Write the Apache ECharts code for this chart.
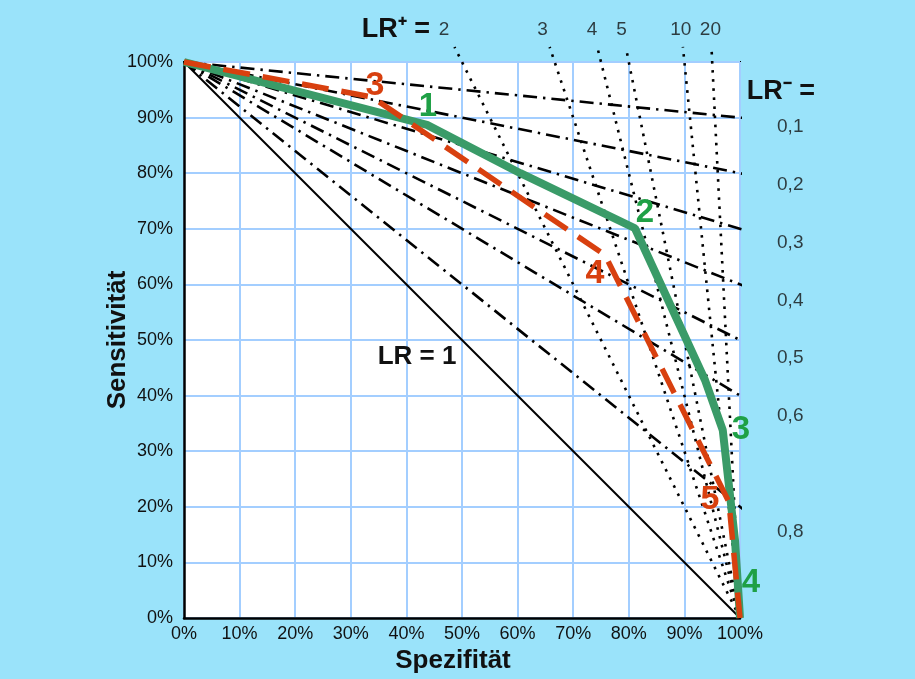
<!DOCTYPE html>
<html>
<head>
<meta charset="utf-8">
<script src="https://cdn.jsdelivr.net/npm/echarts@6/dist/echarts.min.js"></script>
<style>
html,body{margin:0;padding:0;background:#9AE3FA;}
#c{width:915px;height:679px;}
</style>
</head>
<body>
<div id="c"></div>
<script>
// ---- data ----
const xTicks = [0,10,20,30,40,50,60,70,80,90,100];
const lrPlus = [2, 3, 4, 5, 10, 20];
const lrMinus = [0.1, 0.2, 0.3, 0.4, 0.5, 0.6, 0.8];
const lrMinusLabels = ['0,1','0,2','0,3','0,4','0,5','0,6','0,8'];
const greenSpec = [0, 43.7, 60.5, 81.1, 93.7, 96.9, 99.1, 100];
const greenSens = [100, 88.7, 80.0, 70.1, 42.8, 33.8, 14.0, 0];
const redSpec = [0, 33.8, 75.7, 98.0, 100];
const redSens = [100, 93.7, 65.3, 20.9, 0];
const greenLabels = ['1','2','3','4'];
const redLabels = ['3','4','5'];

// ---- chart ----
const FONT = '"Liberation Sans", Arial, sans-serif';
const chart = echarts.init(document.getElementById('c'), null, {renderer:'canvas'});
const series = [];

// LR+ isolines (dotted), from (100%,0) up past the top edge
lrPlus.forEach(function(lr){
  const top = 102.7;
  series.push({type:'line', data:[[100,0],[100 - top/lr, top]], symbol:'none', clip:false, silent:true,
    lineStyle:{color:'#000', width:2.6, type:[2.6,6.5]}, z:3});
});
// LR- isolines (dash-dot), from (0,100%) past the right edge
lrMinus.forEach(function(lr){
  const right = 105.6;
  series.push({type:'line', data:[[0,100],[right, 100 - lr*right]], symbol:'none', clip:false, silent:true,
    lineStyle:{color:'#000', width:2.6, type:[14,6,2.4,6]}, z:3});
});
// LR = 1 diagonal
series.push({type:'line', data:[[0,100],[100,0]], symbol:'none', silent:true,
  lineStyle:{color:'#000', width:2, type:'solid'}, z:3});
// green curve
series.push({type:'line', data:greenSpec.map(function(s,i){return [s, greenSens[i]];}), symbol:'none', clip:false,
  lineStyle:{color:'#3A9B68', width:8}, z:5});
// red dashed curve
series.push({type:'line', data:redSpec.map(function(s,i){return [s, redSens[i]];}), symbol:'none', clip:false,
  lineStyle:{color:'#D8400F', width:5.5, type:[27,13]}, z:6});
// LR+ tick labels
series.push({type:'scatter', symbolSize:0, clip:false, silent:true,
  data:lrPlus.map(function(lr){return {value:[100 - 106.5/lr, 105.8], name:String(lr)};}),
  label:{show:true, position:'inside', formatter:'{b}', color:'#111', fontSize:19, fontFamily:FONT}});
// LR- tick labels
series.push({type:'scatter', symbolSize:0, clip:false, silent:true,
  data:lrMinus.map(function(lr,i){return {value:[104, 100 - lr*104], name:lrMinusLabels[i]};}),
  label:{show:true, position:'inside', offset:[28,7], formatter:'{b}', color:'#111', fontSize:19, fontFamily:FONT}});

chart.setOption({
  animation:false,
  backgroundColor:'#9AE3FA',
  textStyle:{fontFamily:FONT},
  grid:{left:184, right:175, top:62, bottom:61, show:true, backgroundColor:'#fff', borderColor:'#000', borderWidth:2, containLabel:false},
  xAxis:{type:'value', min:0, max:100, interval:10,
    axisLine:{show:true, lineStyle:{color:'#000', width:2.5}}, axisTick:{show:false},
    splitLine:{show:true, lineStyle:{color:'#A3CEFF', width:2}},
    axisLabel:{formatter:'{value}%', color:'#111', fontSize:18, margin:7, fontFamily:FONT},
    name:'Spezifität', nameLocation:'middle', nameGap:30,
    nameTextStyle:{fontSize:26, fontWeight:'bold', color:'#111', fontFamily:FONT, padding:[0,18,0,0]}},
  yAxis:{type:'value', min:0, max:100, interval:10,
    axisLine:{show:true, lineStyle:{color:'#000', width:2.5}}, axisTick:{show:false},
    splitLine:{show:true, lineStyle:{color:'#A3CEFF', width:2}},
    axisLabel:{formatter:'{value}%', color:'#111', fontSize:18, margin:11, fontFamily:FONT}},
  series:series,
  graphic:[
    {type:'text', x:118, y:340, rotation:Math.PI/2, style:{text:'Sensitivität', font:'bold 26px '+FONT, fill:'#111', textAlign:'center', textVerticalAlign:'middle'}, z:10},
    {type:'text', x:396, y:30, style:{text:'LR\u207A =', font:'bold 27px '+FONT, fill:'#111', textAlign:'center', textVerticalAlign:'middle'}, z:10},
    {type:'text', x:781, y:92, style:{text:'LR\u207B =', font:'bold 27px '+FONT, fill:'#111', textAlign:'center', textVerticalAlign:'middle'}, z:10},
    {type:'text', x:417, y:357, style:{text:'LR = 1', font:'bold 26px '+FONT, fill:'#111', textAlign:'center', textVerticalAlign:'middle'}, z:10},
    {type:'text', x:428, y:107, style:{text:greenLabels[0], font:'bold 33px '+FONT, fill:'#1FA046', textAlign:'center', textVerticalAlign:'middle'}, z:10},
    {type:'text', x:645, y:213, style:{text:greenLabels[1], font:'bold 33px '+FONT, fill:'#1FA046', textAlign:'center', textVerticalAlign:'middle'}, z:10},
    {type:'text', x:741, y:430, style:{text:greenLabels[2], font:'bold 33px '+FONT, fill:'#1FA046', textAlign:'center', textVerticalAlign:'middle'}, z:10},
    {type:'text', x:751, y:583, style:{text:greenLabels[3], font:'bold 33px '+FONT, fill:'#1FA046', textAlign:'center', textVerticalAlign:'middle'}, z:10},
    {type:'text', x:375, y:86, style:{text:redLabels[0], font:'bold 34px '+FONT, fill:'#D8400F', textAlign:'center', textVerticalAlign:'middle'}, z:10},
    {type:'text', x:595, y:274, style:{text:redLabels[1], font:'bold 34px '+FONT, fill:'#D8400F', textAlign:'center', textVerticalAlign:'middle'}, z:10},
    {type:'text', x:710, y:500, style:{text:redLabels[2], font:'bold 34px '+FONT, fill:'#D8400F', textAlign:'center', textVerticalAlign:'middle'}, z:10}
  ]
});
</script>
</body>
</html>
